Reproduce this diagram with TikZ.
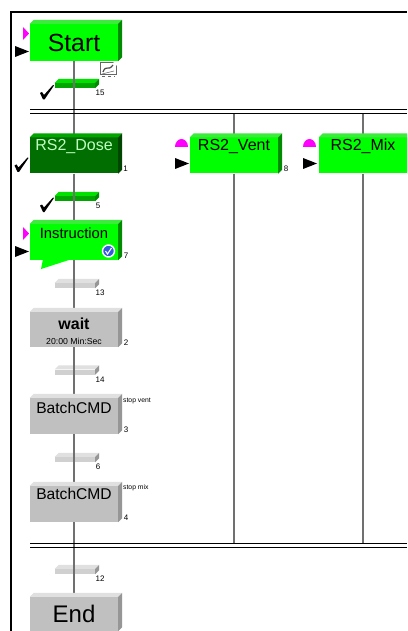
\documentclass[tikz,border=0pt]{standalone}
\usepackage{fontspec}
\setmainfont{Liberation Sans}
\usepackage{xcolor}
\usetikzlibrary{calc,positioning}
\definecolor{stepGreen}{RGB}{0,255,0}
\definecolor{stepGreenTop}{RGB}{60,235,60}
\definecolor{stepGreenSide}{RGB}{0,140,0}
\definecolor{doneGreen}{RGB}{0,110,0}
\definecolor{doneGreenTop}{RGB}{0,165,0}
\definecolor{doneGreenSide}{RGB}{0,70,0}
\definecolor{slabGreen}{RGB}{0,165,0}
\definecolor{slabGreenTop}{RGB}{0,225,0}
\definecolor{idleGray}{RGB}{192,192,192}
\definecolor{idleGrayTop}{RGB}{224,224,224}
\definecolor{idleGraySide}{RGB}{150,150,150}
\definecolor{slabGray}{RGB}{208,208,208}
\definecolor{wireGray}{RGB}{112,112,112}
\definecolor{flagPink}{RGB}{255,0,255}
\definecolor{iconBlue}{RGB}{50,90,225}
\tikzset{
  block/.style={inner sep=0pt, minimum width=88pt, fill=#1},
  slab/.style={inner sep=0pt, minimum width=40pt, minimum height=5pt, fill=#1},
  wire/.style={draw=wireGray, line width=1.2pt},
  rail/.style={draw=black, line width=0.9pt},
  tagnum/.style={inner sep=0pt, font=\fontsize{8}{9}\selectfont},
  tagnote/.style={inner sep=0pt, font=\fontsize{6.8}{7}\selectfont}
}
% top and side face of a block or slab
\newcommand{\faces}[3]{
  \fill[#2] (#1.north west) -- ++(4,-4) -- ($(#1.north east)+(4,-4)$) -- (#1.north east) -- cycle;
  \fill[#3] (#1.north east) -- ++(4,-4) -- ($(#1.south east)+(4,-4)$) -- (#1.south east) -- cycle;
}
\newcommand{\tick}[2]{
  \fill[black, shift={(#1,#2)}] (0,8) -- (2,7) -- (4,10) -- (13,0) -- (14,0.5) -- (4.5,14.5) -- (3,14.5) -- cycle;
}
\newcommand{\pointer}[2]{
  \fill[black] (#1,#2-5.5) -- (#1+14,#2) -- (#1,#2+5.5) -- cycle;
}
\newcommand{\flag}[2]{
  \fill[flagPink] (#1,#2-6.5) -- (#1+6,#2) -- (#1,#2+6.5) -- cycle;
}
\newcommand{\dome}[2]{
  \fill[flagPink] (#1,#2) arc[start angle=180, end angle=0, x radius=6.5, y radius=-8] -- cycle;
}
\begin{document}
\begin{tikzpicture}[x=1pt, y=-1pt]
  \clip (0,0) rectangle (407,631);
  \fill[white] (0,0) rectangle (407,631);
  % Frame
  \draw[line width=2pt] (11,631) -- (11,12) -- (407,12);
  % Steps
  \node[block=stepGreen, minimum height=37pt, font=\fontsize{24.8}{26}\selectfont] (start) at (74,42.5) {Start};
  \node[block=doneGreen, minimum height=36pt, label={[yshift=9pt, text=green!25!white, font=\fontsize{16}{18}\selectfont]center:RS2\_Dose}] (dose) at (74,155.5) {};
  \node[block=stepGreen, minimum height=36pt, label={[yshift=9pt, font=\fontsize{16}{18}\selectfont]center:RS2\_Vent}] (vent) at (234,155.5) {};
  \node[block=stepGreen, minimum height=36pt, label={[yshift=9pt, font=\fontsize{16}{18}\selectfont]center:RS2\_Mix}] (mix) at (363,155.5) {};
  \node[block=stepGreen, minimum height=36pt, label={[yshift=9pt, font=\fontsize{14.8}{16}\selectfont]center:Instruction}] (instr) at (74,242) {};
  \node[block=idleGray, minimum height=35pt, label={[yshift=5.5pt, font=\bfseries\fontsize{16}{18}\selectfont]center:wait}, label={[yshift=-11.5pt, font=\fontsize{8.7}{10}\selectfont]center:20:00 Min:Sec}] (wait) at (74,329.5) {};
  \node[block=idleGray, minimum height=36pt, label={[yshift=8pt, font=\fontsize{15.6}{18}\selectfont]center:BatchCMD}] (cmda) at (74,416) {};
  \node[block=idleGray, minimum height=36pt, label={[yshift=10pt, font=\fontsize{15.6}{18}\selectfont]center:BatchCMD}] (cmdb) at (74,504) {};
  \node[block=idleGray, minimum height=34pt, font=\fontsize{24}{26}\selectfont] (end) at (74,614) {End};
  % Transitions
  \node[slab=slabGreen] (t15) at (75,85.5) {};
  \node[slab=slabGreen] (t5) at (75,198.5) {};
  \node[slab=slabGray] (t13) at (75,285.5) {};
  \node[slab=slabGray] (t14) at (75,372) {};
  \node[slab=slabGray] (t6) at (75,459.5) {};
  \node[slab=slabGray] (t12) at (75,571.5) {};
  \faces{t15}{slabGreenTop}{stepGreenSide}
  \faces{t5}{slabGreenTop}{stepGreenSide}
  \faces{t13}{idleGrayTop}{idleGraySide}
  \faces{t14}{idleGrayTop}{idleGraySide}
  \faces{t6}{idleGrayTop}{idleGraySide}
  \faces{t12}{idleGrayTop}{idleGraySide}
  % Rails
  \coordinate (railaw) at (30,109.3);
  \coordinate (railae) at (407,109.3);
  \coordinate (railbw) at (30,113.3);
  \coordinate (railbe) at (407,113.3);
  \coordinate (railcw) at (30,543.3);
  \coordinate (railce) at (407,543.3);
  \coordinate (raildw) at (30,547.3);
  \coordinate (railde) at (407,547.3);
  % Connectors
  \draw[wire] (start.south) -- (start.south |- t15.center) -- (dose.north);
  \draw[wire] (dose.south) -- (dose.south |- t5.center) -- (instr.north);
  \draw[wire] (instr.south) -- (instr.south |- t13.center) -- (wait.north);
  \draw[wire] (wait.south) -- (wait.south |- t14.center) -- (cmda.north);
  \draw[wire] (cmda.south) -- (cmda.south |- t6.center) -- (cmdb.north);
  \draw[wire] (cmdb.south) -- (cmdb.south |- t12.center) -- (end.north);
  \draw[wire] (vent.north |- railbw) -- (vent.north);
  \draw[wire] (vent.south) -- (vent.south |- railcw);
  \draw[wire] (mix.north |- railbw) -- (mix.north);
  \draw[wire] (mix.south) -- (mix.south |- railcw);
  \draw[rail] (railaw) -- (railae);
  \draw[rail] (railbw) -- (railbe);
  \draw[rail] (railcw) -- (railce);
  \draw[rail] (raildw) -- (railde);
  % Block faces
  \faces{start}{stepGreenTop}{stepGreenSide}
  \faces{dose}{doneGreenTop}{doneGreenSide}
  \faces{vent}{stepGreenTop}{stepGreenSide}
  \faces{mix}{stepGreenTop}{stepGreenSide}
  \faces{instr}{stepGreenTop}{stepGreenSide}
  \faces{wait}{idleGrayTop}{idleGraySide}
  \faces{cmda}{idleGrayTop}{idleGraySide}
  \faces{cmdb}{idleGrayTop}{idleGraySide}
  \faces{end}{idleGrayTop}{idleGraySide}
  \fill[stepGreen] (43,259) -- (41,269) -- (72,259) -- cycle;
  % Markers
  \flag{23}{33.5}
  \pointer{15}{51.5}
  \tick{40}{85}
  \tick{14.5}{157.5}
  \tick{40}{197.5}
  \dome{175}{147}
  \pointer{175}{163.5}
  \dome{303}{147}
  \pointer{303}{163.5}
  \flag{23}{233.5}
  \pointer{15}{251.5}
  % Note icon
  \node[draw=black!60, fill=white, line width=0.7pt, inner sep=0pt, minimum width=16pt, minimum height=12pt] (note) at (108.5,68) {};
  \fill[white] (113,62) -- (117,62) -- (117,66) -- cycle;
  \draw[black!70, line width=1.2pt] (103,72) .. controls (106,64) and (108,72) .. (113,65);
  \draw[black!60, line width=0.6pt] (102,74) -- (114,71);
  \draw[black!60, line width=0.5pt, dashed] (102,76.5) -- (115,76.5);
  % Done icon
  \node[circle, draw=white, fill=iconBlue, line width=1.4pt, inner sep=0pt, minimum size=12pt] (done) at (108.5,251) {};
  \draw[white, line width=1pt] ($(done)+(-3,0)$) -- ($(done)+(-1,3)$) -- ($(done)+(3,-3)$);
  % Tags
  \node[tagnum] (n15) at (100,93) {15};
  \node[tagnum] (n1) at (125.5,169) {1};
  \node[tagnum] (n8) at (286,169) {8};
  \node[tagnum] (n5) at (98,206) {5};
  \node[tagnum] (n7) at (126,256) {7};
  \node[tagnum] (n13) at (100,293) {13};
  \node[tagnum] (n2) at (126,343) {2};
  \node[tagnum] (n14) at (100,380) {14};
  \node[tagnum] (n3) at (126,430) {3};
  \node[tagnum] (n6) at (98,467) {6};
  \node[tagnum] (n4) at (126,518) {4};
  \node[tagnum] (n12) at (100,579) {12};
  \node[tagnote, anchor=west] (notea) at (123,401) {stop vent};
  \node[tagnote, anchor=west] (noteb) at (123,488) {stop mix};
\end{tikzpicture}
\end{document}
